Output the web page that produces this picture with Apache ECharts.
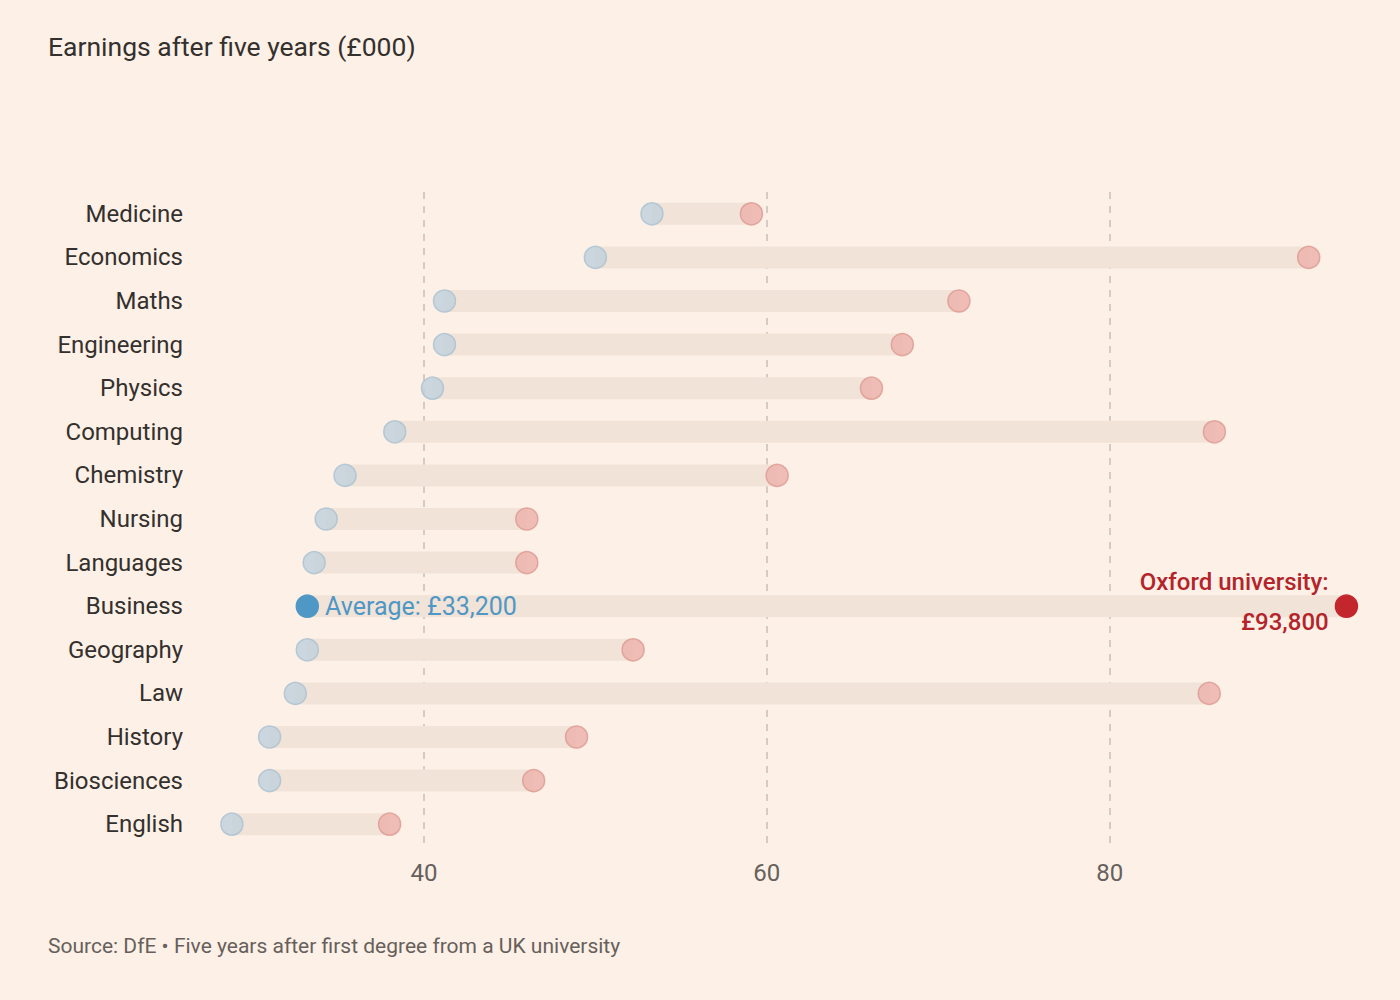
<!DOCTYPE html>
<html>
<head>
<meta charset="utf-8">
<script src="https://cdn.jsdelivr.net/npm/echarts@6/dist/echarts.min.js"></script>
<style>
  html, body { margin: 0; padding: 0; background: #fdf0e6; }
  #chart { width: 1400px; height: 1000px; }
</style>
</head>
<body>
<div id="chart"></div>
<script>
const subjects = ["Medicine", "Economics", "Maths", "Engineering", "Physics", "Computing", "Chemistry",
  "Nursing", "Languages", "Business", "Geography", "Law", "History", "Biosciences", "English"];
// average earnings (£000) by subject
const averages = [53.3, 50.0, 41.2, 41.2, 40.5, 38.3, 35.4, 34.3, 33.6, 33.2, 33.2, 32.5, 31.0, 31.0, 28.8];
// highest-earning university for each subject (£000)
const tops = [59.1, 91.6, 71.2, 67.9, 66.1, 86.1, 60.6, 46.0, 46.0, 93.8, 52.2, 85.8, 48.9, 46.4, 38.0];
const gridValues = [40, 60, 80];
const highlight = "Business";

const chart = echarts.init(document.getElementById("chart"), null, { renderer: "svg" });

const font = "Roboto, 'Noto Sans', sans-serif";
const hiIndex = subjects.indexOf(highlight);

const rangeData = subjects.map((s, i) => [averages[i], tops[i], s]);

const blueData = subjects.map((s, i) => {
  if (i !== hiIndex) return [averages[i], s];
  return {
    value: [averages[i], s],
    itemStyle: { color: "#4f97c4", borderColor: "#4f97c4", opacity: 1 },
    label: {
      show: true,
      position: "right",
      distance: 6,
      formatter: "Average: £33,200",
      color: "#4f97c4",
      fontSize: 25,
      fontFamily: font,
    },
  };
});

const redData = subjects.map((s, i) => {
  if (i !== hiIndex) return [tops[i], s];
  return {
    value: [tops[i], s],
    itemStyle: { color: "#c4262e", borderColor: "#c4262e", opacity: 1 },
    label: {
      show: true,
      position: "left",
      distance: 6,
      formatter: "Oxford university:\n£93,800",
      align: "right",
      color: "#b4242b",
      fontSize: 24,
      fontWeight: 500,
      lineHeight: 40,
      offset: [0, -4],
      fontFamily: font,
    },
  };
});

const option = {
  backgroundColor: "#fdf0e6",
  animation: false,
  title: [
    {
      text: "Earnings after five years (£000)",
      left: 43, top: 28,
      textStyle: { fontFamily: font, fontSize: 26.5, fontWeight: "normal", color: "#33302e" },
    },
    {
      text: "Source: DfE • Five years after first degree from a UK university",
      left: 43, top: 930,
      textStyle: { fontFamily: font, fontSize: 21, fontWeight: "normal", color: "#66605c" },
    },
  ],
  grid: { left: 201, right: 33, top: 192, height: 654 },
  xAxis: {
    type: "value",
    min: 27,
    max: 95,
    axisLine: { show: false },
    axisTick: { show: false },
    splitLine: { show: false },
    axisLabel: {
      customValues: gridValues,
      margin: 15,
      fontFamily: font,
      fontSize: 24,
      color: "#66605c",
    },
  },
  yAxis: {
    type: "category",
    data: subjects,
    inverse: true,
    axisLine: { show: false },
    axisTick: { show: false },
    axisLabel: {
      margin: 18,
      fontFamily: font,
      fontSize: 24,
      color: "#33302e",
    },
  },
  series: [
    {
      type: "custom",
      data: rangeData,
      encode: { x: [0, 1], y: 2 },
      z: 1,
      renderItem: function (params, api) {
        const a = api.coord([api.value(0), api.value(2)]);
        const b = api.coord([api.value(1), api.value(2)]);
        const h = 22;
        return {
          type: "rect",
          shape: { x: a[0], y: a[1] - h / 2, width: b[0] - a[0], height: h },
          style: { fill: "#f2e3d8" },
        };
      },
    },
    {
      type: "scatter",
      name: "Average",
      data: blueData,
      symbolSize: 22,
      z: 3,
      itemStyle: { color: "#bfd0dc", borderColor: "#a9c0d1", borderWidth: 1.5 },
      markLine: {
        silent: true,
        symbol: "none",
        label: { show: false },
        lineStyle: { color: "#c9bfb6", type: [7, 7], width: 1.5 },
        data: gridValues.map((v) => ({ xAxis: v })),
        z: 0,
      },
    },
    {
      type: "scatter",
      name: "Top",
      data: redData,
      symbolSize: 22,
      z: 3,
      itemStyle: { color: "#ebb0aa", borderColor: "#dc9891", borderWidth: 1.5 },
    },
  ],
};

chart.setOption(option);
</script>
</body>
</html>
